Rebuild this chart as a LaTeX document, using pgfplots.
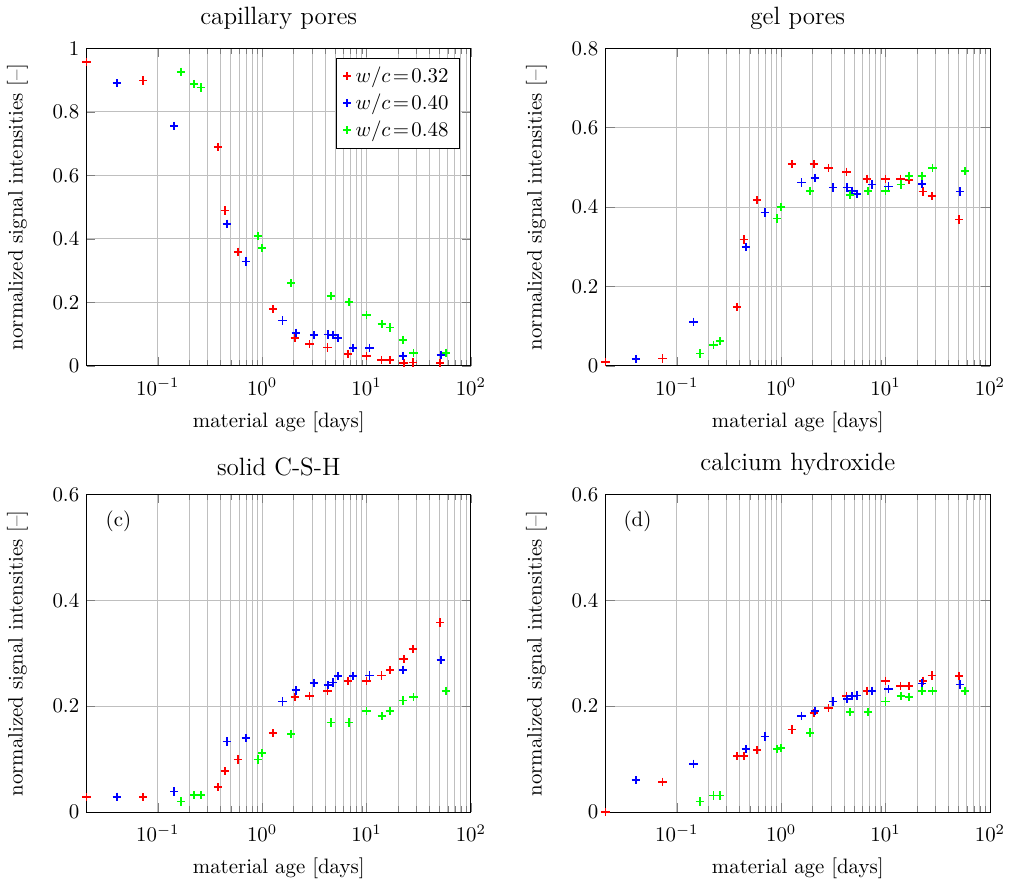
\documentclass[border=0pt]{standalone}
\usepackage{pgfplots}
\pgfplotsset{compat=1.18}
\usepgfplotslibrary{groupplots}

\begin{document}
\begin{tikzpicture}
\begin{groupplot}[
  group style={group size=2 by 2, horizontal sep=64.6pt, vertical sep=61.7pt},
  scale only axis, width=184.2pt, height=152.2pt,
  xmode=log, xmin=0.0208, xmax=100, ymin=0,
  xtick={0.1,1,10,100},
  grid=both,
  xlabel={material age [days]},
  ylabel={normalized signal intensities [--]},
  xticklabel shift=2.5pt,
  xlabel shift=1pt,
  ylabel shift=5pt,
  title style={font=\large, yshift=-0.5pt},
  legend cell align=left,
  legend style={at={(0.97,0.97)}, anchor=north east},
  every axis plot/.append style={only marks, mark=+, mark size=2pt, thick},
]
\nextgroupplot[title={capillary pores}, ymax=1, ytick={0,0.2,0.4,0.6,0.8,1}]
\addplot[red] coordinates {(0.0208,0.957)(0.0727,0.899)(0.379,0.689)(0.439,0.489)(0.589,0.359)(1.27,0.178)(2.05,0.088)(2.84,0.068)(4.22,0.058)(6.65,0.038)(10.0,0.030)(13.9,0.018)(16.8,0.018)(22.7,0.008)(27.7,0.010)(50.9,0.008)};
\addlegendentry{$w/c\!=\!0.32$}
\addplot[blue] coordinates {(0.0404,0.890)(0.144,0.755)(0.459,0.447)(0.698,0.329)(1.57,0.143)(2.10,0.104)(3.15,0.096)(4.25,0.099)(4.75,0.098)(5.34,0.088)(7.43,0.057)(10.7,0.057)(22.5,0.031)(51.6,0.034)};
\addlegendentry{$w/c\!=\!0.40$}
\addplot[green] coordinates {(0.167,0.926)(0.224,0.887)(0.259,0.877)(0.909,0.409)(1.0,0.370)(1.90,0.260)(4.54,0.220)(6.75,0.200)(10.0,0.160)(14.0,0.131)(16.8,0.121)(22.4,0.081)(28.1,0.041)(57.7,0.041)};
\addlegendentry{$w/c\!=\!0.48$}

\nextgroupplot[title={gel pores}, ymax=0.8, ytick={0,0.2,0.4,0.6,0.8}]
\addplot[red] coordinates {(0.0208,0.010)(0.0727,0.018)(0.379,0.148)(0.439,0.318)(0.589,0.417)(1.27,0.508)(2.05,0.508)(2.84,0.498)(4.22,0.489)(6.65,0.471)(10.0,0.471)(13.9,0.471)(16.8,0.468)(22.7,0.439)(27.7,0.428)(50.9,0.369)};
\addplot[blue] coordinates {(0.0404,0.017)(0.144,0.111)(0.459,0.299)(0.698,0.386)(1.57,0.462)(2.10,0.474)(3.15,0.449)(4.25,0.449)(4.75,0.441)(5.34,0.433)(7.43,0.457)(10.7,0.452)(22.5,0.458)(51.6,0.439)};
\addplot[green] coordinates {(0.167,0.031)(0.224,0.052)(0.259,0.062)(0.909,0.371)(1.0,0.400)(1.90,0.440)(4.54,0.430)(6.75,0.440)(10.0,0.440)(14.0,0.457)(16.8,0.479)(22.4,0.479)(28.1,0.499)(57.7,0.490)};

\nextgroupplot[title={solid C-S-H}, ymax=0.6, ytick={0,0.2,0.4,0.6}]
\node at (rel axis cs:0.083,0.915) {(c)};
\addplot[red] coordinates {(0.0208,0.028)(0.0727,0.028)(0.379,0.047)(0.439,0.077)(0.589,0.099)(1.27,0.149)(2.05,0.218)(2.84,0.219)(4.22,0.229)(6.65,0.248)(10.0,0.248)(13.9,0.258)(16.8,0.268)(22.7,0.289)(27.7,0.308)(50.9,0.358)};
\addplot[blue] coordinates {(0.0404,0.029)(0.144,0.039)(0.459,0.133)(0.698,0.140)(1.57,0.209)(2.10,0.230)(3.15,0.244)(4.25,0.240)(4.75,0.245)(5.34,0.257)(7.43,0.257)(10.7,0.258)(22.5,0.269)(51.6,0.287)};
\addplot[green] coordinates {(0.167,0.020)(0.224,0.032)(0.259,0.032)(0.909,0.099)(1.0,0.111)(1.90,0.148)(4.54,0.169)(6.75,0.169)(10.0,0.191)(14.0,0.181)(16.8,0.191)(22.4,0.211)(28.1,0.217)(57.7,0.229)};

\nextgroupplot[title={calcium hydroxide}, ymax=0.6, ytick={0,0.2,0.4,0.6}]
\node at (rel axis cs:0.083,0.915) {(d)};
\addplot[red] coordinates {(0.0208,0.0)(0.0727,0.057)(0.379,0.106)(0.439,0.106)(0.589,0.117)(1.27,0.156)(2.05,0.187)(2.84,0.196)(4.22,0.219)(6.65,0.229)(10.0,0.248)(13.9,0.238)(16.8,0.238)(22.7,0.248)(27.7,0.258)(50.9,0.257)};
\addplot[blue] coordinates {(0.0404,0.060)(0.144,0.091)(0.459,0.119)(0.698,0.143)(1.57,0.182)(2.10,0.191)(3.15,0.209)(4.25,0.213)(4.75,0.219)(5.34,0.220)(7.43,0.229)(10.7,0.232)(22.5,0.243)(51.6,0.241)};
\addplot[green] coordinates {(0.167,0.020)(0.224,0.031)(0.259,0.031)(0.909,0.119)(1.0,0.121)(1.90,0.150)(4.54,0.189)(6.75,0.189)(10.0,0.209)(14.0,0.219)(16.8,0.217)(22.4,0.229)(28.1,0.229)(57.7,0.229)};
\end{groupplot}
\end{tikzpicture}
\end{document}
